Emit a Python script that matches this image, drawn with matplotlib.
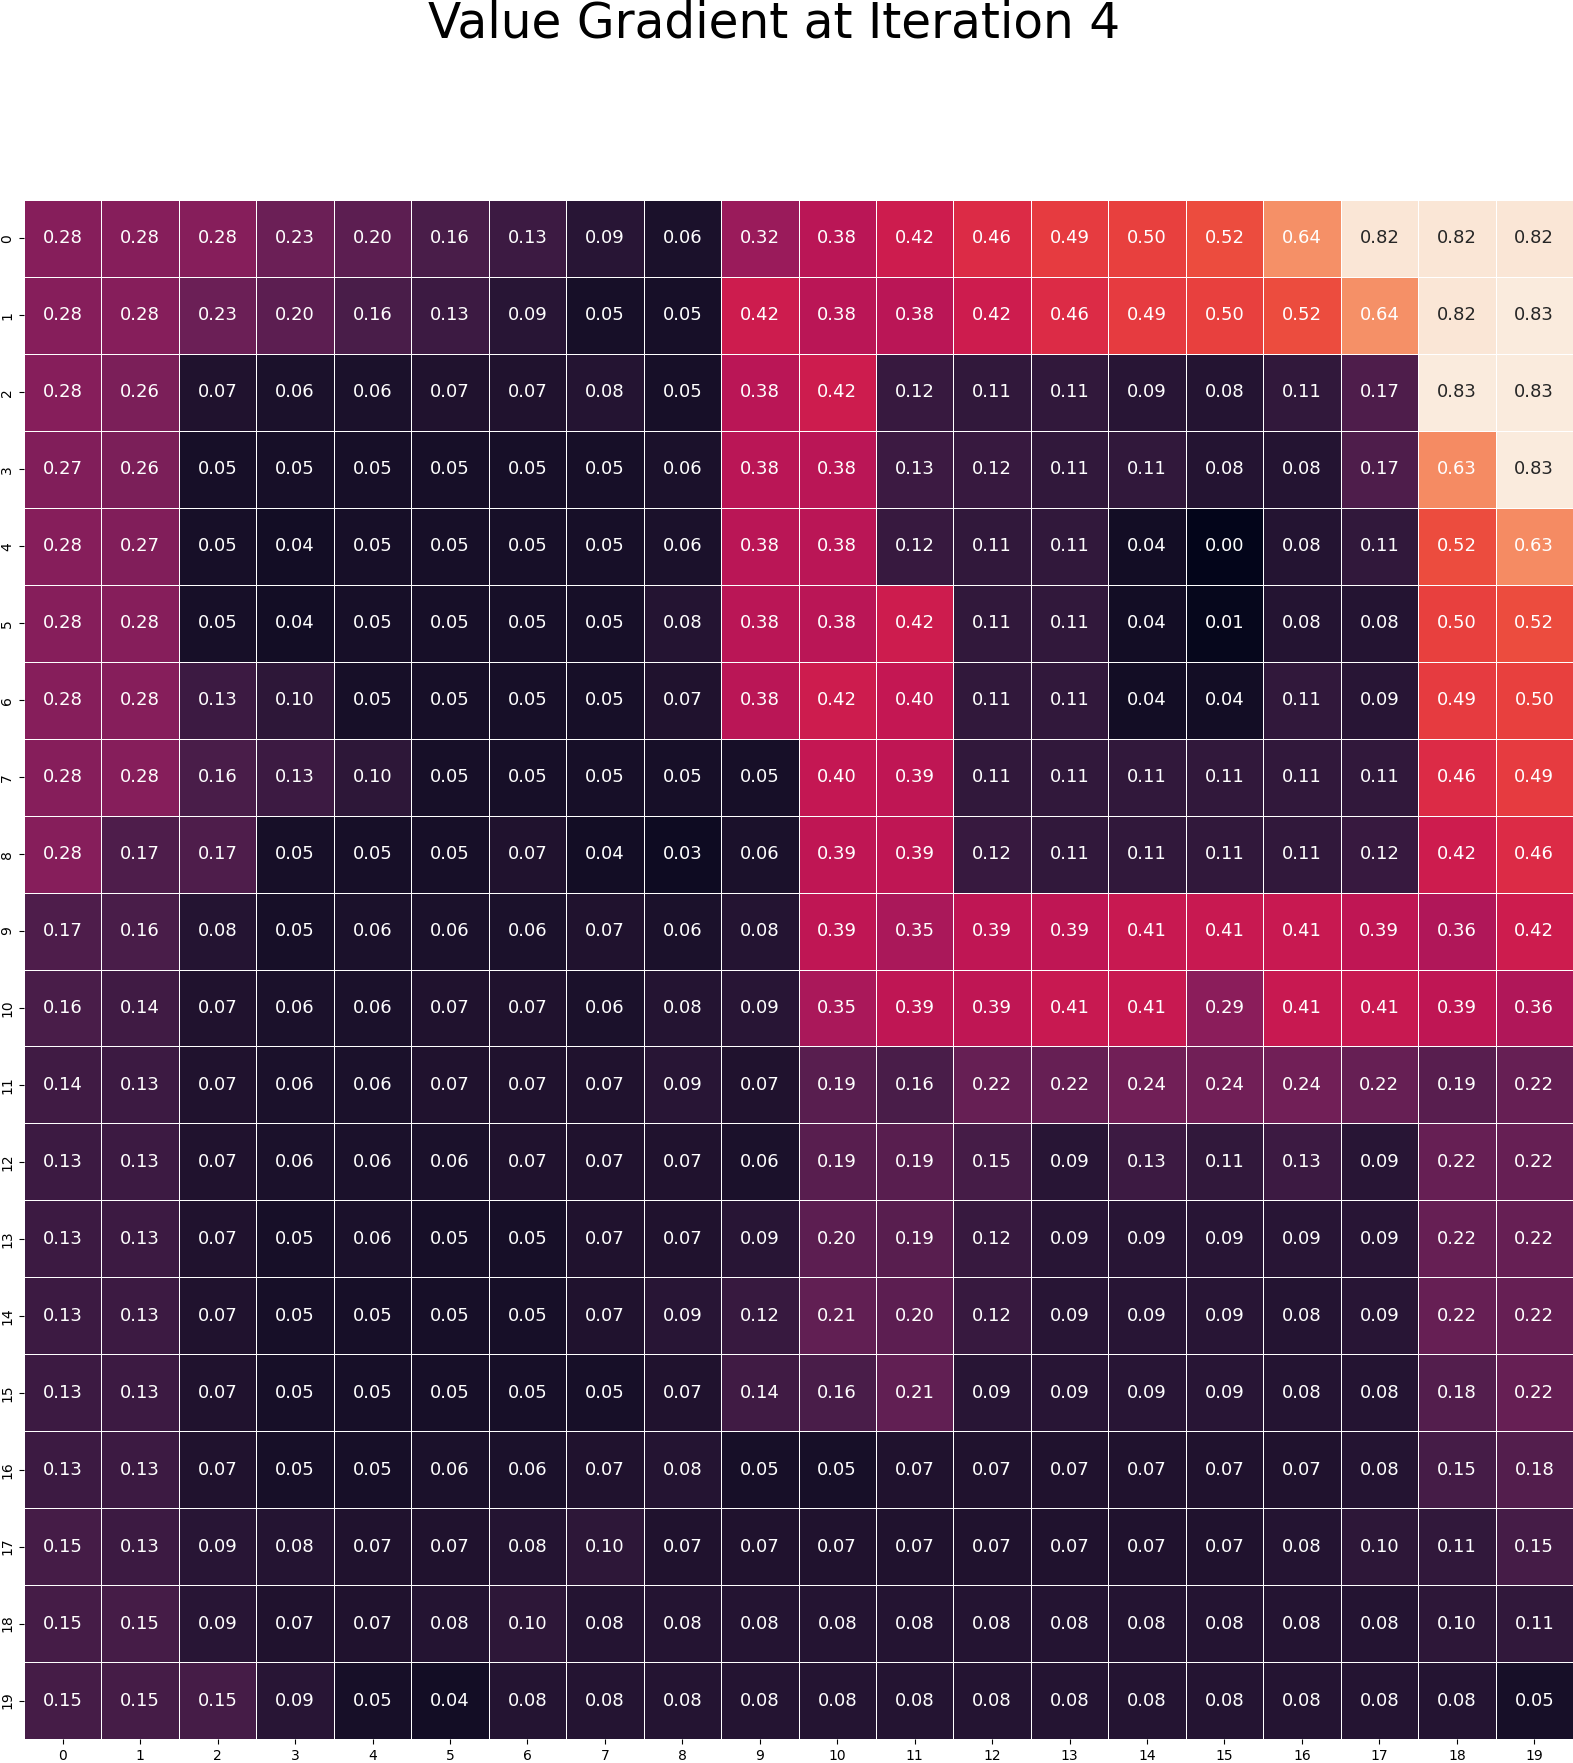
import numpy as np
import matplotlib
matplotlib.use("Agg")
import matplotlib.pyplot as plt
import seaborn as sns

title = "Value Gradient at Iteration 4"
col_labels = [str(i) for i in range(20)]
row_labels = [str(i) for i in range(20)]

row_00 = [0.28, 0.28, 0.28, 0.23, 0.20, 0.16, 0.13, 0.09, 0.06, 0.32, 0.38, 0.42, 0.46, 0.49, 0.50, 0.52, 0.64, 0.82, 0.82, 0.82]
row_01 = [0.28, 0.28, 0.23, 0.20, 0.16, 0.13, 0.09, 0.05, 0.05, 0.42, 0.38, 0.38, 0.42, 0.46, 0.49, 0.50, 0.52, 0.64, 0.82, 0.83]
row_02 = [0.28, 0.26, 0.07, 0.06, 0.06, 0.07, 0.07, 0.08, 0.05, 0.38, 0.42, 0.12, 0.11, 0.11, 0.09, 0.08, 0.11, 0.17, 0.83, 0.83]
row_03 = [0.27, 0.26, 0.05, 0.05, 0.05, 0.05, 0.05, 0.05, 0.06, 0.38, 0.38, 0.13, 0.12, 0.11, 0.11, 0.08, 0.08, 0.17, 0.63, 0.83]
row_04 = [0.28, 0.27, 0.05, 0.04, 0.05, 0.05, 0.05, 0.05, 0.06, 0.38, 0.38, 0.12, 0.11, 0.11, 0.04, 0.00, 0.08, 0.11, 0.52, 0.63]
row_05 = [0.28, 0.28, 0.05, 0.04, 0.05, 0.05, 0.05, 0.05, 0.08, 0.38, 0.38, 0.42, 0.11, 0.11, 0.04, 0.01, 0.08, 0.08, 0.50, 0.52]
row_06 = [0.28, 0.28, 0.13, 0.10, 0.05, 0.05, 0.05, 0.05, 0.07, 0.38, 0.42, 0.40, 0.11, 0.11, 0.04, 0.04, 0.11, 0.09, 0.49, 0.50]
row_07 = [0.28, 0.28, 0.16, 0.13, 0.10, 0.05, 0.05, 0.05, 0.05, 0.05, 0.40, 0.39, 0.11, 0.11, 0.11, 0.11, 0.11, 0.11, 0.46, 0.49]
row_08 = [0.28, 0.17, 0.17, 0.05, 0.05, 0.05, 0.07, 0.04, 0.03, 0.06, 0.39, 0.39, 0.12, 0.11, 0.11, 0.11, 0.11, 0.12, 0.42, 0.46]
row_09 = [0.17, 0.16, 0.08, 0.05, 0.06, 0.06, 0.06, 0.07, 0.06, 0.08, 0.39, 0.35, 0.39, 0.39, 0.41, 0.41, 0.41, 0.39, 0.36, 0.42]
row_10 = [0.16, 0.14, 0.07, 0.06, 0.06, 0.07, 0.07, 0.06, 0.08, 0.09, 0.35, 0.39, 0.39, 0.41, 0.41, 0.29, 0.41, 0.41, 0.39, 0.36]
row_11 = [0.14, 0.13, 0.07, 0.06, 0.06, 0.07, 0.07, 0.07, 0.09, 0.07, 0.19, 0.16, 0.22, 0.22, 0.24, 0.24, 0.24, 0.22, 0.19, 0.22]
row_12 = [0.13, 0.13, 0.07, 0.06, 0.06, 0.06, 0.07, 0.07, 0.07, 0.06, 0.19, 0.19, 0.15, 0.09, 0.13, 0.11, 0.13, 0.09, 0.22, 0.22]
row_13 = [0.13, 0.13, 0.07, 0.05, 0.06, 0.05, 0.05, 0.07, 0.07, 0.09, 0.20, 0.19, 0.12, 0.09, 0.09, 0.09, 0.09, 0.09, 0.22, 0.22]
row_14 = [0.13, 0.13, 0.07, 0.05, 0.05, 0.05, 0.05, 0.07, 0.09, 0.12, 0.21, 0.20, 0.12, 0.09, 0.09, 0.09, 0.08, 0.09, 0.22, 0.22]
row_15 = [0.13, 0.13, 0.07, 0.05, 0.05, 0.05, 0.05, 0.05, 0.07, 0.14, 0.16, 0.21, 0.09, 0.09, 0.09, 0.09, 0.08, 0.08, 0.18, 0.22]
row_16 = [0.13, 0.13, 0.07, 0.05, 0.05, 0.06, 0.06, 0.07, 0.08, 0.05, 0.05, 0.07, 0.07, 0.07, 0.07, 0.07, 0.07, 0.08, 0.15, 0.18]
row_17 = [0.15, 0.13, 0.09, 0.08, 0.07, 0.07, 0.08, 0.10, 0.07, 0.07, 0.07, 0.07, 0.07, 0.07, 0.07, 0.07, 0.08, 0.10, 0.11, 0.15]
row_18 = [0.15, 0.15, 0.09, 0.07, 0.07, 0.08, 0.10, 0.08, 0.08, 0.08, 0.08, 0.08, 0.08, 0.08, 0.08, 0.08, 0.08, 0.08, 0.10, 0.11]
row_19 = [0.15, 0.15, 0.15, 0.09, 0.05, 0.04, 0.08, 0.08, 0.08, 0.08, 0.08, 0.08, 0.08, 0.08, 0.08, 0.08, 0.08, 0.08, 0.08, 0.05]

data = np.array([row_00, row_01, row_02, row_03, row_04, row_05, row_06, row_07,
                 row_08, row_09, row_10, row_11, row_12, row_13, row_14, row_15,
                 row_16, row_17, row_18, row_19])

W, H = 1573, 1763
fig = plt.figure(figsize=(W / 100, H / 100), dpi=100)
ax = fig.add_axes([24 / W, (H - 1739) / H, (W - 24) / W, (1739 - 200) / H])

sns.heatmap(data, ax=ax, cmap="rocket", annot=True, fmt=".2f",
            annot_kws={"size": 13}, linewidths=0.7, linecolor="white",
            cbar=False, xticklabels=col_labels, yticklabels=row_labels)

ax.tick_params(axis="both", labelsize=10)
plt.setp(ax.get_yticklabels(), rotation=90, va="center")
plt.setp(ax.get_xticklabels(), rotation=0)

fig.text(774.5 / W, 1 - 38 / H, title, ha="center", va="baseline", fontsize=35)

fig.savefig("out.png", dpi=100)
